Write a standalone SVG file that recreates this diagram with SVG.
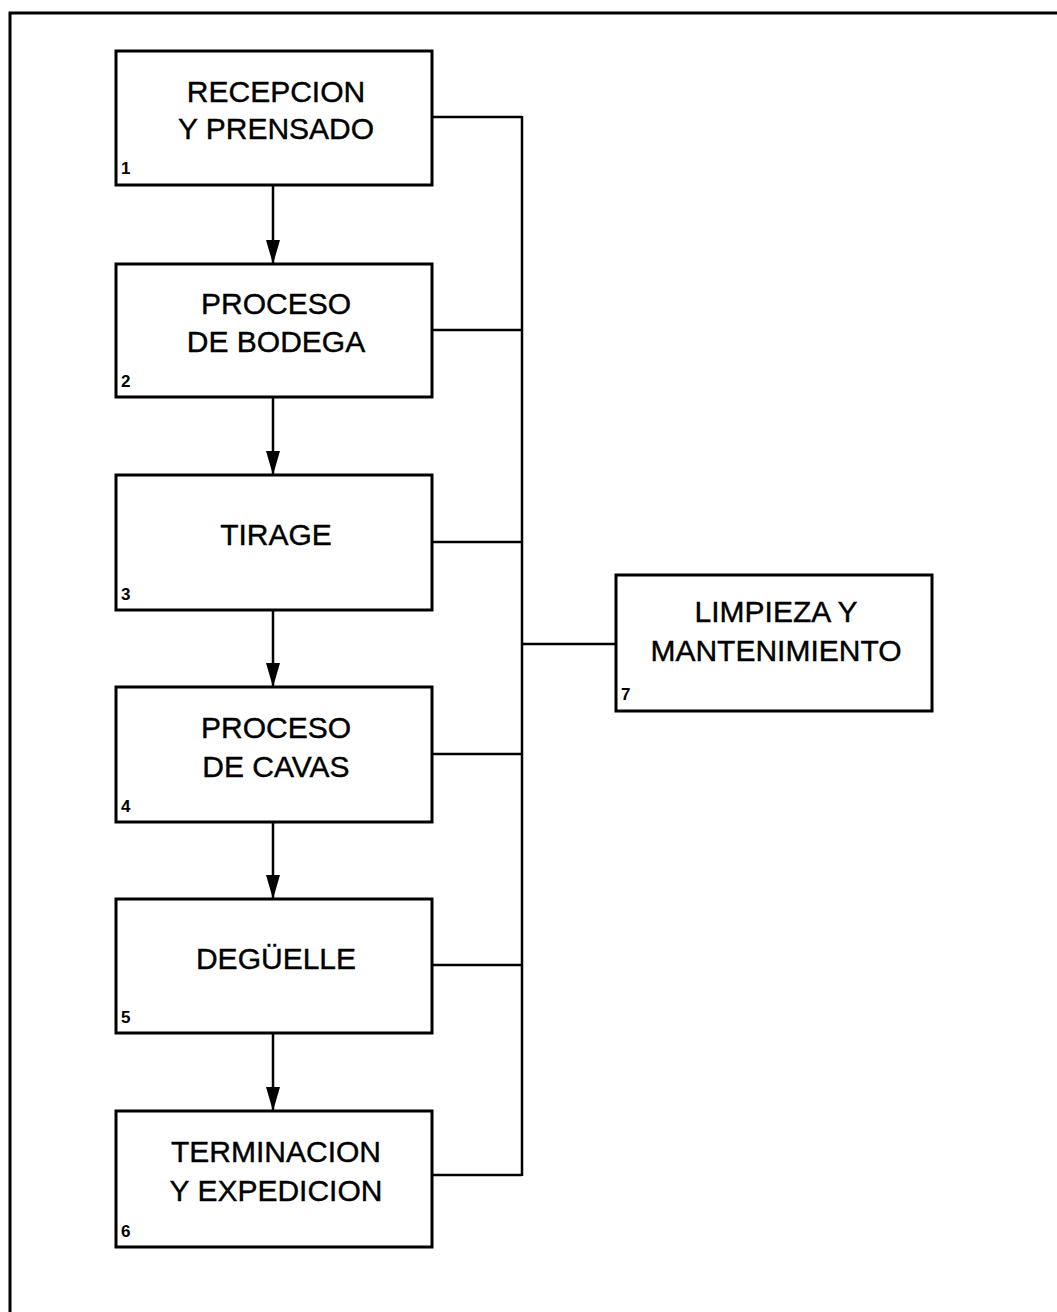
<svg xmlns="http://www.w3.org/2000/svg" width="1057" height="1312" viewBox="0 0 1057 1312">
<style>
.box{fill:#fff;stroke:#000;stroke-width:3}
.lbl{font-family:"Liberation Sans",Arial,sans-serif;font-size:30px;fill:#000;stroke:#000;stroke-width:0.4;text-anchor:middle}
.num{font-family:"Liberation Sans",Arial,sans-serif;font-size:17px;font-weight:bold;fill:#000}
.ln{fill:none;stroke:#000;stroke-width:2.5}
</style>
<defs>
<marker id="ah" markerWidth="24" markerHeight="14" refX="24" refY="7" orient="auto" markerUnits="userSpaceOnUse" viewBox="0 0 24 14">
<path d="M0,0 L24,7 L0,14 Z" fill="#000"/>
</marker>
</defs>
<rect x="10" y="13" width="1100" height="1350" fill="#fff" stroke="#000" stroke-width="3"/>
<g id="connectors">
<path class="ln" d="M432,117 H522 M432,330 H522 M432,542 H522 M432,754 H522 M432,965 H522 M432,1175 H522 M522,116 V1176 M522,644 H616"/>
<line class="ln" x1="273" y1="185" x2="273" y2="264" marker-end="url(#ah)"/>
<line class="ln" x1="273" y1="397" x2="273" y2="475" marker-end="url(#ah)"/>
<line class="ln" x1="273" y1="610" x2="273" y2="687" marker-end="url(#ah)"/>
<line class="ln" x1="273" y1="822" x2="273" y2="899" marker-end="url(#ah)"/>
<line class="ln" x1="273" y1="1033" x2="273" y2="1111" marker-end="url(#ah)"/>
</g>
<g id="n1">
<rect class="box" x="116" y="51" width="316" height="134"/>
<text class="lbl" x="276" y="102">RECEPCION</text>
<text class="lbl" x="276" y="139">Y PRENSADO</text>
<text class="num" x="121" y="174">1</text>
</g>
<g id="n2">
<rect class="box" x="116" y="264" width="316" height="133"/>
<text class="lbl" x="276" y="314">PROCESO</text>
<text class="lbl" x="276" y="352">DE BODEGA</text>
<text class="num" x="121" y="387">2</text>
</g>
<g id="n3">
<rect class="box" x="116" y="475" width="316" height="135"/>
<text class="lbl" x="276" y="545">TIRAGE</text>
<text class="num" x="121" y="600">3</text>
</g>
<g id="n4">
<rect class="box" x="116" y="687" width="316" height="135"/>
<text class="lbl" x="276" y="738">PROCESO</text>
<text class="lbl" x="276" y="777">DE CAVAS</text>
<text class="num" x="121" y="812">4</text>
</g>
<g id="n5">
<rect class="box" x="116" y="899" width="316" height="134"/>
<text class="lbl" x="276" y="969">DEGÜELLE</text>
<text class="num" x="121" y="1023">5</text>
</g>
<g id="n6">
<rect class="box" x="116" y="1111" width="316" height="136"/>
<text class="lbl" x="276" y="1162">TERMINACION</text>
<text class="lbl" x="276" y="1201">Y EXPEDICION</text>
<text class="num" x="121" y="1237">6</text>
</g>
<g id="n7">
<rect class="box" x="616" y="575" width="316" height="136"/>
<text class="lbl" x="776" y="622">LIMPIEZA Y</text>
<text class="lbl" x="776" y="661">MANTENIMIENTO</text>
<text class="num" x="621" y="700">7</text>
</g>
</svg>
